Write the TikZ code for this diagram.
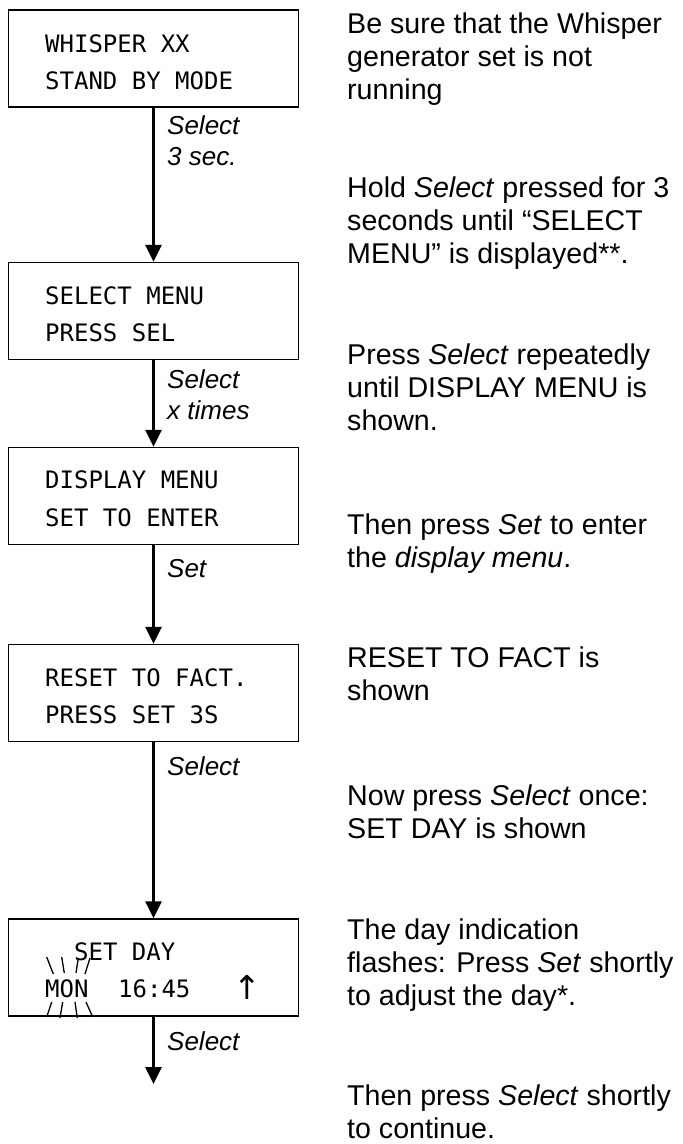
\documentclass[tikz,border=0pt]{standalone}
\usepackage{fontspec}
\setmainfont{Liberation Sans}
\newfontfamily\lcdfont{DejaVu Sans Mono}
\newfontfamily\symfont{DejaVu Sans}
\usetikzlibrary{arrows.meta}
\tikzset{
  box/.style={draw, line width=1.5pt, minimum width=290pt, minimum height=97pt, inner sep=0pt},
  lcd/.style={anchor=base west, inner sep=0pt, font=\lcdfont\fontsize{24pt}{37pt}\selectfont},
  arr/.style={line width=3pt, -{Triangle[width=16pt,length=17pt]}},
  txt/.style={anchor=base west, inner sep=0pt},
  flash/.style={line width=1.3pt}
}
\newcommand{\desctext}[1]{\parbox[t]{340pt}{\raggedright\fontsize{28.6pt}{33pt}\selectfont #1}}
\newcommand{\lbltext}[1]{\parbox[t]{120pt}{\raggedright\fontsize{26pt}{31.5pt}\selectfont\itshape #1}}
\begin{document}
\begin{tikzpicture}[x=1pt,y=-1pt]
\useasboundingbox (0,0) rectangle (683,1144);
% boxes
\node[box] (b1) at (153.5,58.5) {};
\node[box] (b2) at (153.5,311) {};
\node[box] (b3) at (153.5,496) {};
\node[box] (b4) at (153.5,693) {};
\node[box] (b5) at (153.5,967.5) {};
% box texts
\node[lcd] (t1a) at (45,52) {WHISPER XX};
\node[lcd] (t1b) at (45,89) {STAND BY MODE};
\node[lcd] (t2a) at (45,304) {SELECT MENU};
\node[lcd] (t2b) at (45,341) {PRESS SEL};
\node[lcd] (t3a) at (45,488) {DISPLAY MENU};
\node[lcd] (t3b) at (45,526) {SET TO ENTER};
\node[lcd] (t4a) at (45,686) {RESET TO FACT.};
\node[lcd] (t4b) at (45,723) {PRESS SET 3S};
\node[lcd] (t5a) at (74,960) {SET DAY};
\node[lcd] (t5b) at (45,997) {MON};
\node[lcd] (t5c) at (118,997) {16:45};
\node[anchor=base, inner sep=0pt, font=\symfont\fontsize{33pt}{33pt}\selectfont] (t5d) at (247,999) {↑};
% flash marks
\draw[flash] (46.7,957) -- (53.3,974);
\draw[flash] (61.7,957) -- (64.3,973);
\draw[flash] (78.3,958) -- (76,973);
\draw[flash] (90,958) -- (85,974);
\draw[flash] (51.7,1002) -- (46.7,1017);
\draw[flash] (62.7,1002) -- (60,1018);
\draw[flash] (75,1002) -- (77.3,1018);
\draw[flash] (86,1002) -- (92.7,1017);
% connectors
\coordinate (end) at (153.5,1084);
\draw[arr] (b1.south) -- (b2.north);
\draw[arr] (b2.south) -- (b3.north);
\draw[arr] (b3.south) -- (b4.north);
\draw[arr] (b4.south) -- (b5.north);
\draw[arr] (b5.south) -- (end);
% connector labels
\node[txt] (l1) at (167,134) {\lbltext{Select\\3 sec.}};
\node[txt] (l2) at (167,388) {\lbltext{Select\\x times}};
\node[txt] (l3) at (167,577) {\lbltext{Set}};
\node[txt] (l4) at (167,775) {\lbltext{Select}};
\node[txt] (l5) at (167,1050) {\lbltext{Select}};
% descriptions
\node[txt] (d1) at (347,33) {\desctext{Be sure that the Whisper\\generator set is not\\running}};
\node[txt] (d2) at (347,197) {\desctext{Hold \textit{Select} pressed for 3\\seconds until “SELECT\\MENU” is displayed**.}};
\node[txt] (d3) at (347,364) {\desctext{Press \textit{Select} repeatedly\\until DISPLAY MENU is\\shown.}};
\node[txt] (d4) at (347,534) {\desctext{Then press \textit{Set} to enter\\the \textit{display menu}.}};
\node[txt] (d5) at (347,667) {\desctext{RESET TO FACT is\\shown}};
\node[txt] (d6) at (347,805) {\desctext{Now press \textit{Select} once:\\SET DAY is shown}};
\node[txt] (d7) at (347,939) {\desctext{The day indication\\flashes: Press \textit{Set} shortly\\to adjust the day*.}};
\node[txt] (d8) at (347,1105) {\desctext{Then press \textit{Select} shortly\\to continue.}};
\end{tikzpicture}
\end{document}
